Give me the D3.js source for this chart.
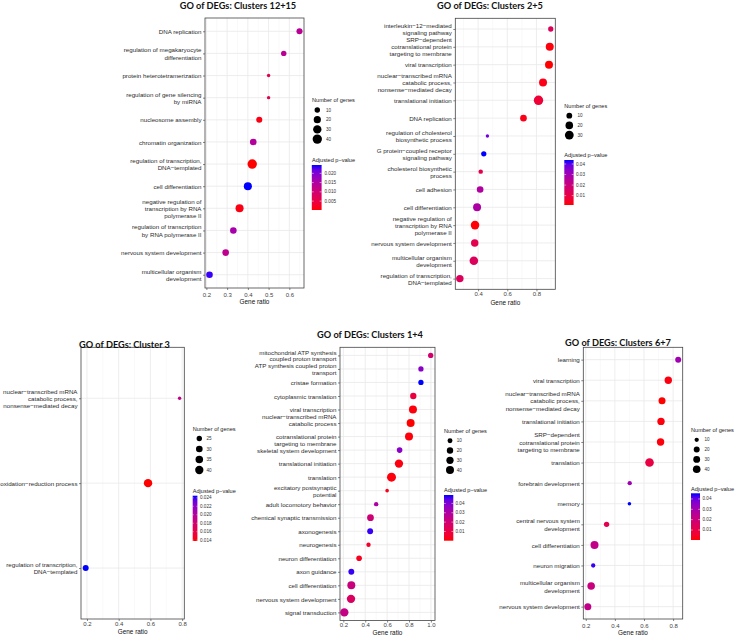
<!DOCTYPE html>
<html>
<head>
<meta charset="utf-8">
<script src="https://cdn.jsdelivr.net/npm/d3@7"></script>
<style>
  body { margin: 0; background: #fff; }
  svg text { font-family: 'Liberation Sans', Arial, sans-serif; }
</style>
</head>
<body>
<svg id="chart"></svg>
<script>
// ---- Clusters 12+15
const terms1215 = [
  'DNA replication',
  'regulation of megakaryocyte\ndifferentiation',
  'protein heterotetramerization',
  'regulation of gene silencing\nby miRNA',
  'nucleosome assembly',
  'chromatin organization',
  'regulation of transcription,\nDNA−templated',
  'cell differentiation',
  'negative regulation of\ntranscription by RNA\npolymerase II',
  'regulation of transcription\nby RNA polymerase II',
  'nervous system development',
  'multicellular organism\ndevelopment'
];
const ratio1215 = [0.649, 0.573, 0.500, 0.500, 0.455, 0.426, 0.421, 0.400, 0.360, 0.330, 0.293, 0.215];
const count1215 = [13, 10, 6, 6, 13, 16, 41, 27, 27, 16, 16, 16];
const padj1215 = [0.0136, 0.0136, 0.0063, 0.0063, 0.0010, 0.0143, 0.0002, 0.0245, 0.0010, 0.0160, 0.0130, 0.0237];
const xTicks1215 = [0.2, 0.3, 0.4, 0.5, 0.6];
const sizes1215 = [10, 20, 30, 40];
const pLabels1215 = ['0.005', '0.010', '0.015', '0.020'];

// ---- Clusters 2+5
const terms25 = [
  'interleukin−12−mediated\nsignaling pathway',
  'SRP−dependent\ncotranslational protein\ntargeting to membrane',
  'viral transcription',
  'nuclear−transcribed mRNA\ncatabolic process,\nnonsense−mediated decay',
  'translational initiation',
  'DNA replication',
  'regulation of cholesterol\nbiosynthetic process',
  'G protein−coupled receptor\nsignaling pathway',
  'cholesterol biosynthetic\nprocess',
  'cell adhesion',
  'cell differentiation',
  'negative regulation of\ntranscription by RNA\npolymerase II',
  'nervous system development',
  'multicellular organism\ndevelopment',
  'regulation of transcription,\nDNA−templated'
];
const ratio25 = [0.898, 0.891, 0.886, 0.845, 0.814, 0.711, 0.464, 0.439, 0.418, 0.414, 0.393, 0.379, 0.377, 0.371, 0.275];
const count25 = [8, 23, 23, 23, 36, 14, 5, 8, 6, 14, 23, 28, 19, 28, 19];
const padj25 = [0.0140, 0.0019, 0.0011, 0.0028, 0.0075, 0.0028, 0.0374, 0.0438, 0.0118, 0.0267, 0.0276, 0.0015, 0.0118, 0.0140, 0.0140];
const xTicks25 = [0.4, 0.6, 0.8];
const sizes25 = [10, 20, 30];
const pLabels25 = ['0.01', '0.02', '0.03', '0.04'];

// ---- Cluster 3
const terms3 = [
  'nuclear−transcribed mRNA\ncatabolic process,\nnonsense−mediated decay',
  'oxidation−reduction process',
  'regulation of transcription,\nDNA−templated'
];
const ratio3 = [0.784, 0.585, 0.192];
const count3 = [22, 41, 27];
const padj3 = [0.0190, 0.0138, 0.0245];
const xTicks3 = [0.2, 0.4, 0.6, 0.8];
const sizes3 = [25, 30, 35, 40];
const pLabels3 = ['0.014', '0.016', '0.018', '0.020', '0.022', '0.024'];

// ---- Clusters 1+4
const terms14 = [
  'mitochondrial ATP synthesis\ncoupled proton transport',
  'ATP synthesis coupled proton\ntransport',
  'cristae formation',
  'cytoplasmic translation',
  'viral transcription',
  'nuclear−transcribed mRNA\ncatabolic process\n',
  '\ncotranslational protein\ntargeting to membrane',
  'skeletal system development',
  'translational initiation',
  'translation',
  'excitatory postsynaptic\npotential',
  'adult locomotory behavior',
  'chemical synaptic transmission',
  'axonogenesis',
  'neurogenesis',
  'neuron differentiation',
  'axon guidance',
  'cell differentiation',
  'nervous system development',
  'signal transduction'
];
const ratio14 = [0.998, 0.909, 0.909, 0.839, 0.836, 0.815, 0.800, 0.714, 0.708, 0.640, 0.600, 0.500, 0.448, 0.445, 0.430, 0.344, 0.273, 0.273, 0.270, 0.209];
const count14 = [12, 12, 12, 20, 40, 40, 40, 14, 46, 57, 7, 8, 24, 16, 8, 14, 16, 40, 46, 46];
const padj14 = [0.0187, 0.0380, 0.0490, 0.0089, 0.0010, 0.0001, 0.0010, 0.0380, 0.0016, 0.0010, 0.0025, 0.0300, 0.0206, 0.0475, 0.0050, 0.0035, 0.0475, 0.0220, 0.0160, 0.0236];
const xTicks14 = [0.2, 0.4, 0.6, 0.8, 1.0];
const sizes14 = [10, 20, 30, 40];
const pLabels14 = ['0.01', '0.02', '0.03', '0.04'];

// ---- Clusters 6+7
const terms67 = [
  'learning',
  'viral transcription',
  'nuclear−transcribed mRNA\ncatabolic process,\nnonsense−mediated decay',
  'translational initiation',
  'SRP−dependent\ncotranslational protein\ntargeting to membrane',
  'translation',
  'forebrain development',
  'memory',
  'central nervous system\ndevelopment',
  'cell differentiation',
  'neuron migration',
  'multicellular organism\ndevelopment',
  'nervous system development'
];
const ratio67 = [0.835, 0.767, 0.724, 0.717, 0.714, 0.638, 0.502, 0.500, 0.343, 0.260, 0.251, 0.237, 0.214];
const count67 = [20, 37, 32, 37, 37, 58, 10, 9, 15, 47, 10, 40, 32];
const padj67 = [0.0310, 0.0017, 0.0003, 0.0012, 0.0012, 0.0093, 0.0310, 0.0455, 0.0116, 0.0229, 0.0441, 0.0205, 0.0229];
const xTicks67 = [0.2, 0.4, 0.6, 0.8];
const sizes67 = [10, 20, 30, 40];
const pLabels67 = ['0.01', '0.02', '0.03', '0.04'];

const [width, height] = [735, 635];

let svg = d3.select('#chart')
  .attr('width', width)
  .attr('height', height)

let defs = svg.append('defs')

// panel layouts (positions only)
const panels = [
  { title: 'GO of DEGs: Clusters 12+15', terms: terms1215, ratio: ratio1215, count: count1215, padj: padj1215,
    xTicks: xTicks1215, sizes: sizes1215, pLabels: pLabels1215,
    box: [205, 304, 18, 288], titlePos: [238, 8.6], tickY: 294.5, xlabY: 301.7, lh: 7.3, rRange: [1.7, 4.7],
    leg: { x: 312, sTitleY: 100, keyX: 317.3, keyY0: 110, keyStep: 9.7, keyLabX: 326,
      pTitleY: 159.5, bar: [311.8, 165, 9.8, 45], barLabX: 324.5 } },
  { title: 'GO of DEGs: Clusters 2+5', terms: terms25, ratio: ratio25, count: count25, padj: padj25,
    xTicks: xTicks25, sizes: sizes25, pLabels: pLabels25,
    box: [455.3, 555.3, 18.3, 289.3], titlePos: [490, 8.6], tickY: 294, xlabY: 302.7, lh: 7, rRange: [1.7, 4.7],
    leg: { x: 564.3, sTitleY: 106, keyX: 569.3, keyY0: 115.7, keyStep: 9.7, keyLabX: 577.5,
      pTitleY: 155, bar: [564.3, 160, 9.3, 45], barLabX: 576 } },
  { title: 'GO of DEGs: Cluster 3', terms: terms3, ratio: ratio3, count: count3, padj: padj3,
    xTicks: xTicks3, sizes: sizes3, pLabels: pLabels3,
    box: [81, 184.3, 347.3, 619], titlePos: [124.5, 347.5], tickY: 624.3, xlabY: 631.7, lh: 7.2, rRange: [1.7, 4.2],
    leg: { x: 192.7, sTitleY: 429.3, keyX: 199.3, keyY0: 438.5, keyStep: 10.5, keyLabX: 206.5,
      pTitleY: 490.7, bar: [192.7, 495.7, 4.7, 45.3], barLabX: 200 } },
  { title: 'GO of DEGs: Clusters 1+4', terms: terms14, ratio: ratio14, count: count14, padj: padj14,
    xTicks: xTicks14, sizes: sizes14, pLabels: pLabels14,
    box: [340, 435, 347.3, 620.5], titlePos: [370, 337.8], tickY: 625, xlabY: 632.7, lh: 6.5, rRange: [1.8, 4.5],
    leg: { x: 444, sTitleY: 431, keyX: 450, keyY0: 440.7, keyStep: 9.8, keyLabX: 456.7,
      pTitleY: 490, bar: [444, 495, 9.3, 45.7], barLabX: 455.5 } },
  { title: 'GO of DEGs: Clusters 6+7', terms: terms67, ratio: ratio67, count: count67, padj: padj67,
    xTicks: xTicks67, sizes: sizes67, pLabels: pLabels67,
    box: [583.3, 682.7, 347.3, 619], titlePos: [618, 346.3], tickY: 625.7, xlabY: 632.7, lh: 7.6, rRange: [1.8, 4.3],
    leg: { x: 691, sTitleY: 430, keyX: 696.7, keyY0: 439.8, keyStep: 9.8, keyLabX: 704.5,
      pTitleY: 489.3, bar: [691, 493.3, 9, 46.7], barLabX: 702.5 } }
]

panels.forEach(drawPanel)

function drawPanel(p, k) {
  let [x0, x1, y0, y1] = p.box
  let g = svg.append('g')

  // ggplot style 5% expansion on the continuous axis
  let xr = d3.extent(p.ratio)
  let xpad = (xr[1] - xr[0]) * 0.05
  let x = d3.scaleLinear()
    .domain([xr[0] - xpad, xr[1] + xpad])
    .range([x0, x1])
  let y = d3.scalePoint()
    .domain(p.terms)
    .range([y0, y1])
    .padding(0.6)

  // point size: sqrt of rescaled count (like scale_size)
  let cr = d3.extent(p.count)
  let rs = d3.scaleLinear().domain([0, 1]).range(p.rRange)
  let r = c => rs(Math.sqrt((c - cr[0]) / (cr[1] - cr[0])))

  let pr = d3.extent(p.padj)
  let color = d3.scaleLinear()
    .domain(pr)
    .range(['red', 'blue'])
    .interpolate(d3.interpolateLab)

  //网格
  let step = p.xTicks[1] - p.xTicks[0]
  let dom = x.domain()
  let minor = p.xTicks.map(t => t - step / 2)
    .concat([p.xTicks[p.xTicks.length - 1] + step / 2])
    .filter(t => t > dom[0] && t < dom[1])

  g.append('g')
    .selectAll('line')
    .data(minor)
    .enter()
    .append('line')
    .attr('x1', d => x(d)).attr('x2', d => x(d))
    .attr('y1', y0).attr('y2', y1)
    .attr('stroke', '#f2f2f2')
    .attr('stroke-width', 0.5)

  g.append('g')
    .selectAll('line')
    .data(p.xTicks)
    .enter()
    .append('line')
    .attr('x1', d => x(d)).attr('x2', d => x(d))
    .attr('y1', y0).attr('y2', y1)
    .attr('stroke', '#e8e8e8')
    .attr('stroke-width', 0.8)

  g.append('g')
    .selectAll('line')
    .data(p.terms)
    .enter()
    .append('line')
    .attr('x1', x0).attr('x2', x1)
    .attr('y1', d => y(d)).attr('y2', d => y(d))
    .attr('stroke', '#e8e8e8')
    .attr('stroke-width', 0.8)

  // y axis
  let yAxis = g.append('g')
    .attr('transform', 'translate(' + x0 + ',0)')
    .call(d3.axisLeft(y).tickSize(2).tickPadding(1.5))
  yAxis.select('.domain').remove()
  yAxis.attr('font-size', 6.2).attr('font-family', null).attr('color', '#333')
  yAxis.selectAll('.tick line').attr('stroke-width', 0.6)
  yAxis.selectAll('.tick text').each(function(d) {
    let lines = d.split('\n')
    let t = d3.select(this).text(null).attr('dy', null).attr('fill', '#2b2b2b')
    lines.forEach(function(s, i) {
      t.append('tspan')
        .attr('x', -3.5)
        .attr('y', (i - (lines.length - 1) / 2) * p.lh)
        .attr('dy', '0.35em')
        .text(s)
    })
  })

  // x axis
  let xAxis = g.append('g')
    .attr('transform', 'translate(0,' + y1 + ')')
    .call(d3.axisBottom(x).tickValues(p.xTicks).tickFormat(d3.format('.1f')).tickSize(2))
  xAxis.select('.domain').remove()
  xAxis.attr('font-size', 6).attr('font-family', null).attr('color', '#333')
  xAxis.selectAll('.tick line').attr('stroke-width', 0.6)
  xAxis.selectAll('.tick text')
    .attr('y', p.tickY - y1)
    .attr('dy', '0.35em')
    .attr('fill', '#444')

  // border
  g.append('rect')
    .attr('x', x0).attr('y', y0)
    .attr('width', x1 - x0).attr('height', y1 - y0)
    .attr('fill', 'none')
    .attr('stroke', '#444')
    .attr('stroke-width', 0.8)

  // points
  g.append('g')
    .selectAll('circle')
    .data(d3.range(p.terms.length))
    .enter()
    .append('circle')
    .attr('cx', i => x(p.ratio[i]))
    .attr('cy', i => y(p.terms[i]))
    .attr('r', i => r(p.count[i]))
    .attr('fill', i => color(p.padj[i]))

  // titles
  svg.append('text')
    .attr('x', p.titlePos[0]).attr('y', p.titlePos[1])
    .attr('text-anchor', 'middle')
    .style('font-family', 'Lato, sans-serif')
    .style('font-weight', 'bold')
    .style('font-size', '9.2px')
    .attr('fill', '#111')
    .text(p.title)

  g.append('text')
    .attr('x', (x0 + x1) / 2).attr('y', p.xlabY)
    .attr('text-anchor', 'middle')
    .attr('dominant-baseline', 'central')
    .style('font-size', '6.4px')
    .attr('fill', '#111')
    .text('Gene ratio')

  //图例 legend
  let L = p.leg
  let leg = svg.append('g')
  leg.append('text')
    .attr('x', L.x).attr('y', L.sTitleY)
    .attr('dominant-baseline', 'central')
    .style('font-size', '5.6px')
    .attr('fill', '#222')
    .text('Number of genes')

  let keys = leg.selectAll('.key')
    .data(p.sizes)
    .enter()
    .append('g')
    .attr('transform', (d, i) => 'translate(0,' + (L.keyY0 + i * L.keyStep) + ')')
  keys.append('circle')
    .attr('cx', L.keyX)
    .attr('r', d => r(d))
    .attr('fill', '#000')
  keys.append('text')
    .attr('x', L.keyLabX)
    .attr('dominant-baseline', 'central')
    .style('font-size', '4.6px')
    .attr('fill', '#333')
    .text(d => d)

  leg.append('text')
    .attr('x', L.x).attr('y', L.pTitleY)
    .attr('dominant-baseline', 'central')
    .style('font-size', '5.6px')
    .attr('fill', '#222')
    .text('Adjusted p−value')

  let gid = 'grad' + k
  let grad = defs.append('linearGradient')
    .attr('id', gid)
    .attr('x1', 0).attr('y1', 1).attr('x2', 0).attr('y2', 0)
  d3.range(11).forEach(function(i) {
    grad.append('stop')
      .attr('offset', i / 10)
      .attr('stop-color', color(pr[0] + (pr[1] - pr[0]) * i / 10))
  })
  let [bx, by, bw, bh] = L.bar
  leg.append('rect')
    .attr('x', bx).attr('y', by)
    .attr('width', bw).attr('height', bh)
    .attr('fill', 'url(#' + gid + ')')

  let barY = d3.scaleLinear().domain(pr).range([by + bh, by])
  let pb = leg.selectAll('.pb')
    .data(p.pLabels)
    .enter()
    .append('g')
    .attr('transform', d => 'translate(0,' + barY(+d) + ')')
  pb.append('line')
    .attr('x1', bx).attr('x2', bx + bw / 5)
    .attr('stroke', '#fff').attr('stroke-width', 0.5)
  pb.append('line')
    .attr('x1', bx + bw * 4 / 5).attr('x2', bx + bw)
    .attr('stroke', '#fff').attr('stroke-width', 0.5)
  pb.append('text')
    .attr('x', L.barLabX)
    .attr('dominant-baseline', 'central')
    .style('font-size', '4.6px')
    .attr('fill', '#333')
    .text(d => d)
}
</script>
</body>
</html>
